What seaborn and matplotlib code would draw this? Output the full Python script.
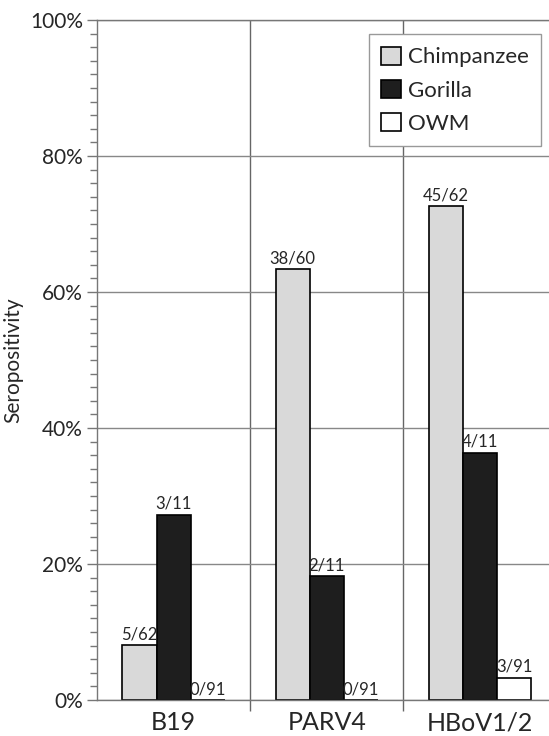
import numpy as np
import pandas as pd
import matplotlib
matplotlib.use("Agg")
import matplotlib.pyplot as plt
import seaborn as sns
from matplotlib.ticker import MultipleLocator, PercentFormatter, FixedLocator

# Data
viruses = ["B19", "PARV4", "HBoV1/2"]
species = ["Chimpanzee", "Gorilla", "OWM"]
positives = {
    "Chimpanzee": [5, 38, 45],
    "Gorilla": [3, 2, 4],
    "OWM": [0, 0, 3],
}
totals = {
    "Chimpanzee": [62, 60, 62],
    "Gorilla": [11, 11, 11],
    "OWM": [91, 91, 91],
}
colors = ["#d9d9d9", "#1e1e1e", "#ffffff"]

rows = []
for sp in species:
    for v, p, n in zip(viruses, positives[sp], totals[sp]):
        rows.append({"virus": v, "species": sp, "pct": 100.0 * p / n, "label": f"{p}/{n}"})
df = pd.DataFrame(rows)

sns.set_style("white")
plt.rcParams["font.family"] = ["Lato", "DejaVu Sans"]

fig = plt.figure(figsize=(5.49, 7.36), dpi=100)
ax = fig.add_axes([97 / 549, 36 / 736, 452 / 549, 680 / 736])

sns.barplot(data=df, x="virus", y="pct", hue="species", hue_order=species,
            palette=colors, width=0.67, edgecolor="black", linewidth=1.2,
            ax=ax, legend=True)

for cont, sp in zip(ax.containers, species):
    labs = df[df["species"] == sp]["label"].tolist()
    ax.bar_label(cont, labels=labs, padding=2, fontsize=12)

ax.set_ylim(0, 100)
ax.set_xlim(-0.5, 2.45)
ax.yaxis.set_major_locator(MultipleLocator(20))
ax.yaxis.set_minor_locator(MultipleLocator(2))
ax.yaxis.set_major_formatter(PercentFormatter(decimals=0))
ax.xaxis.set_minor_locator(FixedLocator([0.5, 1.5]))

ax.grid(axis="y", which="major", color="#888888", linewidth=1)
ax.grid(axis="x", which="minor", color="#666666", linewidth=1)
ax.set_axisbelow(True)

ax.tick_params(axis="y", which="major", length=7, width=1, color="#777777",
               labelsize=15, left=True, pad=3)
ax.tick_params(axis="y", which="minor", length=5, width=1, color="#777777", left=True)
ax.tick_params(axis="x", which="major", length=0, labelsize=18, pad=8)
ax.tick_params(axis="x", which="minor", length=8, width=1, color="#666666", bottom=True)

for s in ["left", "bottom", "top"]:
    ax.spines[s].set_visible(True)
    ax.spines[s].set_color("#777777")
    ax.spines[s].set_linewidth(1)
ax.spines["right"].set_visible(False)

ax.set_xlabel("")
ax.set_ylabel("Seropositivity", fontsize=15, labelpad=5)

leg = ax.legend(loc="upper right", bbox_to_anchor=(0.982, 0.979), borderaxespad=0,
                fontsize=16, frameon=True, fancybox=False, edgecolor="#999999",
                handlelength=0.9, handleheight=0.9, handletextpad=0.3,
                labelspacing=0.55, borderpad=0.55, framealpha=1)
leg.get_frame().set_linewidth(1)

fig.savefig("out.png", dpi=100)
